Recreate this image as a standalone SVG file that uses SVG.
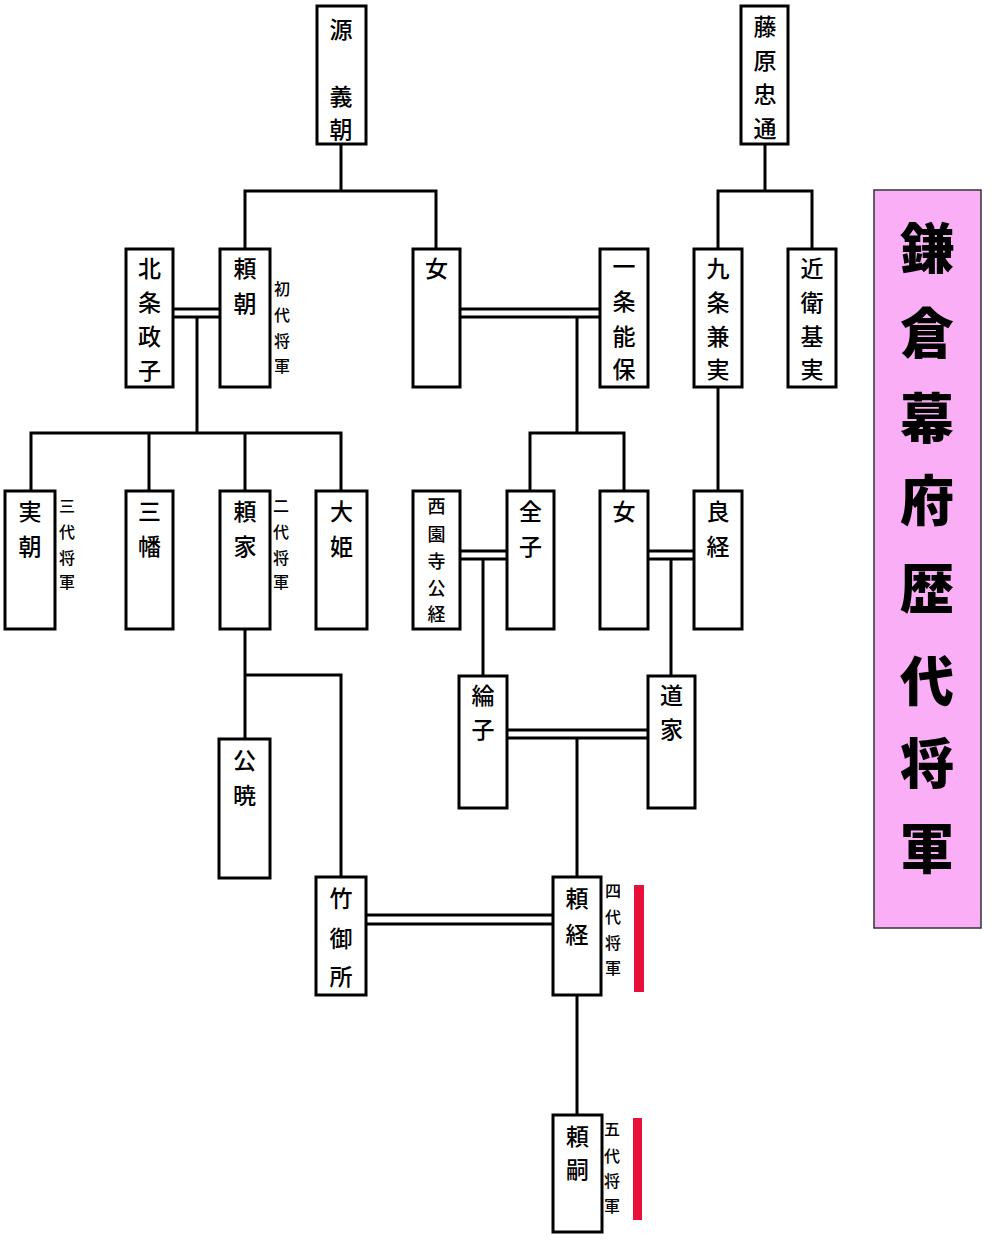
<svg xmlns="http://www.w3.org/2000/svg" width="1000" height="1245" viewBox="0 0 1000 1245">
<style>
.box{fill:#fff;stroke:#000;stroke-width:3}
.c{fill:none;stroke:#000;stroke-width:3}
.t{font-family:"Noto Sans CJK JP","Noto Sans CJK SC",sans-serif;font-size:23px;font-weight:500;text-anchor:middle;dominant-baseline:central;fill:#000}
.s{font-family:"Noto Sans CJK JP","Noto Sans CJK SC",sans-serif;font-size:16px;font-weight:500;text-anchor:middle;dominant-baseline:central;fill:#000}
.m{font-family:"Noto Sans CJK JP","Noto Sans CJK SC",sans-serif;font-size:18px;font-weight:500;text-anchor:middle;dominant-baseline:central;fill:#000}
.title{font-family:"Noto Sans CJK JP","Noto Sans CJK SC",sans-serif;font-size:54px;font-weight:900;text-anchor:middle;dominant-baseline:central;fill:#000}
.red{fill:#e8103a}
</style>
<rect width="1000" height="1245" fill="#fff"/>
<g id="connectors">
<path class="c" d="M341,144 V191 M245,249 V191 H436 V249"/>
<path class="c" d="M765,144 V191 M718,249 V191 H812 V249"/>
<path class="c" d="M173,309 H220 M173,317 H220 M197,317 V433 M31,491 V433 H341 V491 M149,433 V491 M245,433 V491"/>
<path class="c" d="M460,309 H600 M460,317 H600 M577,317 V433 M530,491 V433 H624 V491"/>
<path class="c" d="M718,387 V491"/>
<path class="c" d="M460,551 H507 M460,559 H507 M483,559 V676"/>
<path class="c" d="M648,551 H694 M648,559 H694 M671,559 V676"/>
<path class="c" d="M507,730 H648 M507,738 H648 M577,738 V877"/>
<path class="c" d="M245,629 V739 M245,675 H341 V877"/>
<path class="c" d="M366,915 H553 M366,924 H553"/>
<path class="c" d="M577,995 V1115"/>
</g>
<g id="minamoto-yoshitomo"><rect class="box" x="317" y="6" width="49" height="138"/><text class="t"><tspan x="341" y="28">源</tspan><tspan x="341" y="95">義</tspan><tspan x="341" y="128">朝</tspan></text></g>
<g id="fujiwara-tadamichi"><rect class="box" x="741" y="6" width="47" height="138"/><text class="t"><tspan x="765" y="25">藤</tspan><tspan x="765" y="59">原</tspan><tspan x="765" y="93">忠</tspan><tspan x="765" y="127">通</tspan></text></g>
<g id="hojo-masako"><rect class="box" x="126" y="249" width="47" height="138"/><text class="t"><tspan x="149.5" y="267">北</tspan><tspan x="149.5" y="301">条</tspan><tspan x="149.5" y="335">政</tspan><tspan x="149.5" y="369">子</tspan></text></g>
<g id="yoritomo"><rect class="box" x="220" y="249" width="50" height="138"/><text class="t"><tspan x="245" y="267">頼</tspan><tspan x="245" y="302">朝</tspan></text><text class="s"><tspan x="282" y="288">初</tspan><tspan x="282" y="314">代</tspan><tspan x="282" y="340">将</tspan><tspan x="282" y="365">軍</tspan></text></g>
<g id="onna1"><rect class="box" x="413" y="249" width="47" height="138"/><text class="t"><tspan x="436.5" y="267">女</tspan></text></g>
<g id="ichijo-yoshiyasu"><rect class="box" x="600" y="249" width="48" height="138"/><text class="t"><tspan x="624" y="265">一</tspan><tspan x="624" y="300">条</tspan><tspan x="624" y="335">能</tspan><tspan x="624" y="368">保</tspan></text></g>
<g id="kujo-kanezane"><rect class="box" x="694" y="249" width="48" height="138"/><text class="t"><tspan x="718" y="267">九</tspan><tspan x="718" y="301">条</tspan><tspan x="718" y="335">兼</tspan><tspan x="718" y="368">実</tspan></text></g>
<g id="konoe-motozane"><rect class="box" x="788" y="249" width="48" height="138"/><text class="t"><tspan x="812" y="267">近</tspan><tspan x="812" y="301">衛</tspan><tspan x="812" y="335">基</tspan><tspan x="812" y="368">実</tspan></text></g>
<g id="sanetomo"><rect class="box" x="5" y="491" width="50" height="138"/><text class="t"><tspan x="30" y="510">実</tspan><tspan x="30" y="545">朝</tspan></text><text class="s"><tspan x="67" y="505">三</tspan><tspan x="67" y="531">代</tspan><tspan x="67" y="557">将</tspan><tspan x="67" y="581">軍</tspan></text></g>
<g id="sanman"><rect class="box" x="126" y="491" width="47" height="138"/><text class="t"><tspan x="149.5" y="510">三</tspan><tspan x="149.5" y="545">幡</tspan></text></g>
<g id="yoriie"><rect class="box" x="220" y="491" width="50" height="138"/><text class="t"><tspan x="245" y="510">頼</tspan><tspan x="245" y="545">家</tspan></text><text class="s"><tspan x="281" y="505">二</tspan><tspan x="281" y="531">代</tspan><tspan x="281" y="557">将</tspan><tspan x="281" y="581">軍</tspan></text></g>
<g id="ohime"><rect class="box" x="316" y="491" width="51" height="138"/><text class="t"><tspan x="341.5" y="510">大</tspan><tspan x="341.5" y="545">姫</tspan></text></g>
<g id="saionji-kintsune"><rect class="box" x="413" y="491" width="47" height="138"/><text class="m"><tspan x="436.5" y="505">西</tspan><tspan x="436.5" y="533">園</tspan><tspan x="436.5" y="560">寺</tspan><tspan x="436.5" y="587">公</tspan><tspan x="436.5" y="613">経</tspan></text></g>
<g id="zenshi"><rect class="box" x="507" y="491" width="47" height="138"/><text class="t"><tspan x="530.5" y="510">全</tspan><tspan x="530.5" y="545">子</tspan></text></g>
<g id="onna2"><rect class="box" x="600" y="491" width="48" height="138"/><text class="t"><tspan x="624" y="510">女</tspan></text></g>
<g id="yoshitsune"><rect class="box" x="694" y="491" width="48" height="138"/><text class="t"><tspan x="718" y="510">良</tspan><tspan x="718" y="545">経</tspan></text></g>
<g id="rinshi"><rect class="box" x="459" y="676" width="48" height="132"/><text class="t"><tspan x="483" y="694">綸</tspan><tspan x="483" y="728">子</tspan></text></g>
<g id="michiie"><rect class="box" x="648" y="676" width="47" height="132"/><text class="t"><tspan x="671.5" y="694">道</tspan><tspan x="671.5" y="728">家</tspan></text></g>
<g id="kugyo"><rect class="box" x="219" y="739" width="51" height="139"/><text class="t"><tspan x="244.5" y="759">公</tspan><tspan x="244.5" y="794">暁</tspan></text></g>
<g id="take-no-gosho"><rect class="box" x="316" y="877" width="50" height="118"/><text class="t"><tspan x="341" y="897">竹</tspan><tspan x="341" y="937">御</tspan><tspan x="341" y="975">所</tspan></text></g>
<g id="yoritsune"><rect class="box" x="553" y="877" width="48" height="118"/><text class="t"><tspan x="577" y="897">頼</tspan><tspan x="577" y="933">経</tspan></text><text class="s"><tspan x="613" y="890">四</tspan><tspan x="613" y="916">代</tspan><tspan x="613" y="942">将</tspan><tspan x="613" y="967">軍</tspan></text><rect class="red" x="634" y="885" width="10" height="107"/></g>
<g id="yoritsugu"><rect class="box" x="553" y="1115" width="49" height="117"/><text class="t"><tspan x="577.5" y="1135">頼</tspan><tspan x="577.5" y="1168">嗣</tspan></text><text class="s"><tspan x="612" y="1128">五</tspan><tspan x="612" y="1155">代</tspan><tspan x="612" y="1180">将</tspan><tspan x="612" y="1205">軍</tspan></text><rect class="red" x="633" y="1118" width="9" height="102"/></g>
<g id="title"><rect x="874" y="190" width="107" height="738" fill="#f9aef6" stroke="#333" stroke-width="1.5"/><text class="title"><tspan x="927" y="245">鎌</tspan><tspan x="927" y="330">倉</tspan><tspan x="927" y="415">幕</tspan><tspan x="927" y="497">府</tspan><tspan x="927" y="585">歴</tspan><tspan x="927" y="678">代</tspan><tspan x="927" y="760">将</tspan><tspan x="927" y="845">軍</tspan></text></g>
</svg>
